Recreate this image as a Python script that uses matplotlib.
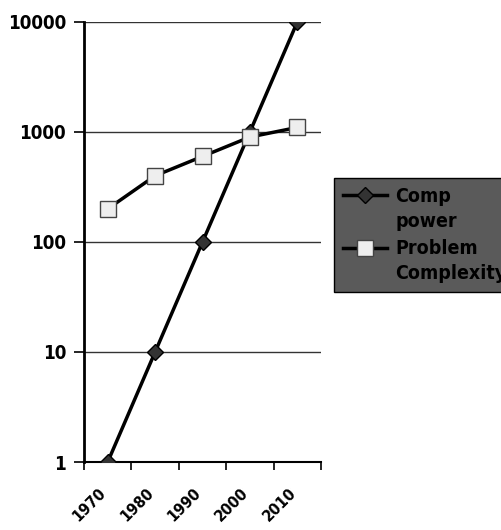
import numpy as np
import matplotlib.pyplot as plt
import matplotlib.transforms as mtransforms
from matplotlib.legend_handler import HandlerLine2D

plt.rcParams['font.family'] = ['DejaVu Sans']
plt.rcParams['font.stretch'] = 'condensed'
plt.rcParams['font.weight'] = 'bold'

# values
years = ['1970', '1980', '1990', '2000', '2010']
comp_power = [1, 10, 100, 1000, 10000]
problem_complexity = [200, 400, 600, 900, 1100]


class TopLine(HandlerLine2D):
    # put the legend marker next to the first line of a two-line label
    def create_artists(self, legend, orig_handle, xdescent, ydescent,
                       width, height, fontsize, trans):
        arts = super().create_artists(legend, orig_handle, xdescent, ydescent,
                                      width, height, fontsize, trans)
        for a in arts:
            a.set_ydata(np.asarray(a.get_ydata()) + fontsize * 0.75)
        return arts


fig = plt.figure(figsize=(5.01, 5.30), dpi=100)
ax = fig.add_axes([0.1677, 0.1283, 0.473, 0.8302])

x = np.arange(len(years))
ax.plot(x, comp_power, color='black', lw=2.5, marker='D', ms=8.5,
        mfc='#333333', mec='black', mew=1, label='Comp\npower', zorder=3)
ax.plot(x, problem_complexity, color='black', lw=2.5, marker='s', ms=11.5,
        mfc='#eeeeee', mec='#444444', mew=1, label='Problem\nComplexity', zorder=4)

ax.set_yscale('log')
ax.set_ylim(1, 10000)
ax.set_xlim(-0.5, len(years) - 0.5)
ax.set_yticks([1, 10, 100, 1000, 10000])
ax.set_yticklabels(['1', '10', '100', '1000', '10000'], fontsize=13.5, fontweight='bold')
ax.yaxis.set_minor_locator(plt.NullLocator())
ax.grid(axis='y', color='#333333', lw=1)

ax.set_xticks(x)
ax.set_xticklabels(years, rotation=45, ha='right', va='top', rotation_mode='anchor',
                   fontsize=11.5, fontweight='bold')
ax.tick_params(axis='x', which='major', length=0, pad=17)
shift = mtransforms.ScaledTranslation(-0.09, 0, fig.dpi_scale_trans)
for lab in ax.get_xticklabels():
    lab.set_transform(lab.get_transform() + shift)
ax.set_xticks(np.arange(len(years) + 1) - 0.5, minor=True)
ax.tick_params(axis='x', which='minor', length=6, width=1.2, direction='out')
ax.tick_params(axis='y', length=7, width=1.2, direction='out', pad=6)

for s in ['top', 'right']:
    ax.spines[s].set_visible(False)
ax.spines['left'].set_linewidth(2)
ax.spines['bottom'].set_linewidth(1.5)

handles, labels = ax.get_legend_handles_labels()
leg = fig.legend(handles, labels, loc='upper left',
                 bbox_to_anchor=(334 / 501, 1 - 178 / 530), borderaxespad=0,
                 frameon=True, fancybox=False, handlelength=2.3,
                 handletextpad=0.4, borderpad=0.45, labelspacing=0.45,
                 handler_map={h: TopLine() for h in handles},
                 prop={'weight': 'bold', 'size': 14, 'stretch': 'condensed'})
for t in leg.get_texts():
    t.set_linespacing(1.4)
leg.get_frame().set_facecolor('#5a5a5a')
leg.get_frame().set_edgecolor('black')
leg.get_frame().set_alpha(1)

fig.savefig('out.png', dpi=100)
